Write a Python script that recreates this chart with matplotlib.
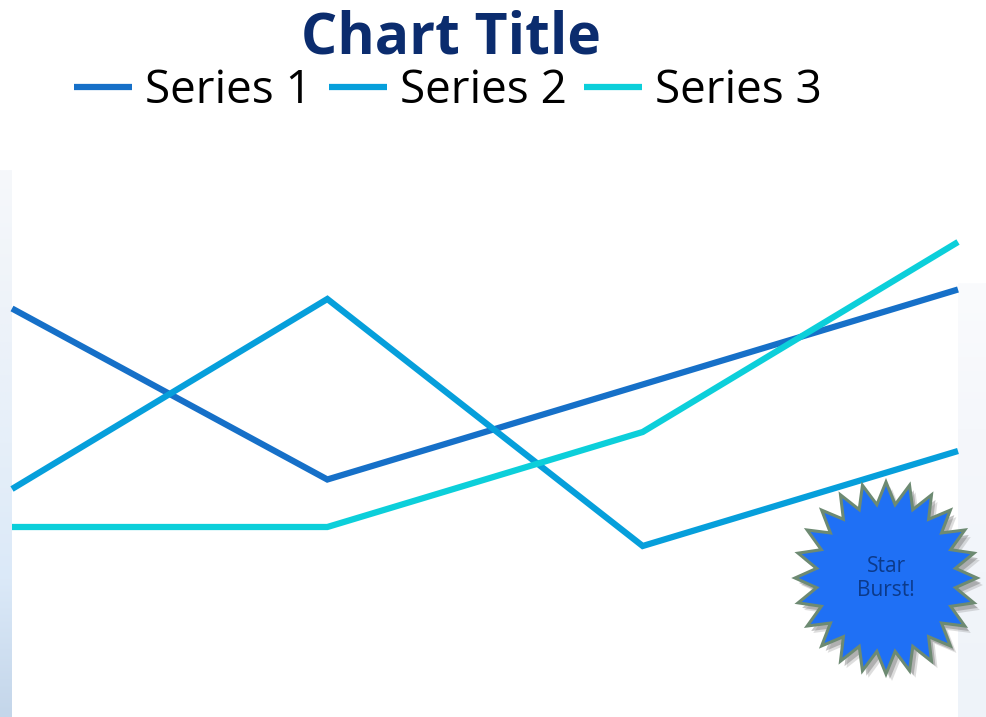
import numpy as np
import matplotlib
matplotlib.use("Agg")
import matplotlib.pyplot as plt
from matplotlib.patches import Polygon
from matplotlib.colors import LinearSegmentedColormap

categories = ["Category 1", "Category 2", "Category 3", "Category 4"]
series_names = ["Series 1", "Series 2", "Series 3"]
series1 = [4.3, 2.5, 3.5, 4.5]
series2 = [2.4, 4.4, 1.8, 2.8]
series3 = [2.0, 2.0, 3.0, 5.0]
colors = ["#1670c8", "#069fdb", "#0ccfda"]

W, H = 986, 717
fig = plt.figure(figsize=(W / 100, H / 100), dpi=100)
fig.patch.set_facecolor("white")

# background decoration layer (pixel coordinates)
bg = fig.add_axes([0, 0, 1, 1], zorder=0)
bg.set_xlim(0, W)
bg.set_ylim(H, 0)
bg.axis("off")
grad = np.linspace(0, 1, 200).reshape(-1, 1)
cmap_l = LinearSegmentedColormap.from_list("l", ["#f6f8fb", "#eef3f9", "#e6eff9", "#dbe9f8", "#c4d6ea"])
bg.imshow(grad, cmap=cmap_l, extent=(0, 12, H, 170), aspect="auto", zorder=0)
cmap_r = LinearSegmentedColormap.from_list("r", ["#fafbfd", "#f5f7fb", "#f2f5fa", "#eef3f9"])
bg.imshow(grad, cmap=cmap_r, extent=(958, W, H, 283), aspect="auto", zorder=0)

# main chart
ax = fig.add_axes([0, 0, 1, 1], zorder=1)
ax.patch.set_alpha(0)
x = np.arange(len(categories))
px_per_cat = (958 - 12) / 3
ax.set_xlim(-12 / px_per_cat, 3 + (W - 958) / px_per_cat)
ax.set_ylim(0, H / 95.0)
ax.axis("off")
handles = []
for vals, name, c in zip([series1, series2, series3], series_names, colors):
    (ln,) = ax.plot(x, vals, color=c, lw=4.5, solid_capstyle="butt",
                    solid_joinstyle="miter", label=name)
    handles.append(ln)

fig.text(451 / W, 1 - 53 / H, "Chart Title", ha="center", va="baseline",
         fontsize=41, fontweight="bold", color="#0b2c6e", family="Open Sans")

leg = fig.legend(handles=handles, loc="center", bbox_to_anchor=(448 / W, 1 - 91 / H),
                 ncol=3, frameon=False, prop={"family": "Open Sans", "size": 33},
                 handlelength=1.26, handletextpad=0.28, columnspacing=0.38,
                 borderpad=0, borderaxespad=0)

# star burst decoration (pixel coordinates)
ov = fig.add_axes([0, 0, 1, 1], zorder=2)
ov.patch.set_alpha(0)
ov.set_xlim(0, W)
ov.set_ylim(H, 0)
ov.axis("off")
cx, cy = 886, 578
n = 24
ang = np.pi / 2 + np.arange(2 * n) * np.pi / n
rx = np.where(np.arange(2 * n) % 2 == 0, 91, 70)
ry = np.where(np.arange(2 * n) % 2 == 0, 96, 74)
pts = np.column_stack([cx + rx * np.cos(ang), cy - ry * np.sin(ang)])
for off, a in [((6, 7), 0.25), ((4, 5), 0.45)]:
    ov.add_patch(Polygon(pts + np.array(off), closed=True, facecolor="#7a7a7a",
                         edgecolor="none", alpha=a, zorder=1))
star = Polygon(pts, closed=True, facecolor="#1f70f5", edgecolor="#6d8a72", lw=2.2, zorder=2)
ov.add_patch(star)
ov.text(cx, cy - 12, "Star", ha="center", va="center", fontsize=15,
        color="#0c3a8a", family="Open Sans", zorder=3)
ov.text(cx, cy + 13, "Burst!", ha="center", va="center", fontsize=15,
        color="#0c3a8a", family="Open Sans", zorder=3)

fig.savefig("out.png", dpi=100)
